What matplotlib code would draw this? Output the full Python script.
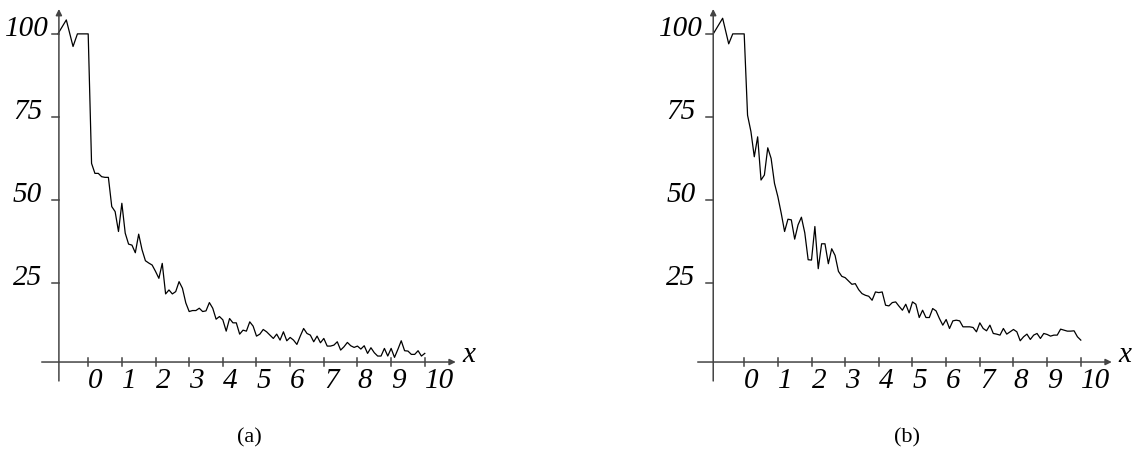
import numpy as np
import matplotlib.pyplot as plt

# leading zig-zag before x = 0 (same shape in both panels)
lead_x_a = [-0.9, -0.65, -0.45, -0.32]
lead_y_a = [100, 104.2, 96.2, 100]
lead_x_b = [-0.92, -0.64, -0.46, -0.34]
lead_y_b = [100, 104.7, 97, 100]

# curve values from x = 0 to x = 10, step 0.1
step = 0.1
y_a = [100, 61, 58, 58, 57, 56.8, 56.8, 48, 46.5, 40.5, 49, 40, 36.7, 36.4, 34.1,
       39.7, 35, 31.7, 31, 30.4, 28.5, 26.4, 30.9, 21.7, 22.9, 21.7, 22.4, 25.4,
       23.4, 19, 16.4, 16.7, 16.7, 17.4, 16.4, 16.6, 19.1, 17.4, 14.1, 14.9, 13.9,
       10.5, 14.3, 13, 13, 9.6, 10.8, 10.5, 13.3, 12, 9, 9.6, 11, 10.3, 9.3, 8.3,
       9.6, 7.8, 10.3, 7.6, 8.6, 7.8, 6.5, 9, 11.3, 9.8, 9.3, 7.3, 9, 7, 8.3, 6, 6,
       6.3, 7.3, 4.8, 5.8, 7.1, 6.1, 5.6, 6, 5.1, 6.1, 3.8, 5.5, 4, 3, 3, 5.3, 3,
       5.3, 2.6, 5, 7.6, 4.6, 4.5, 3.5, 3.5, 4.6, 3, 3.8]
y_b = [100, 75.5, 70.6, 63, 69, 56, 57.5, 65.7, 62.5, 55, 51, 46, 40.5, 44.2, 44,
       38.2, 42.5, 44.8, 40.1, 32, 31.9, 42, 29.3, 36.8, 36.8, 30.8, 35.3, 33.3,
       28.5, 27, 26.6, 25.6, 24.6, 24.8, 23, 21.8, 21.3, 21, 19.8, 22.3, 22.1, 22.3,
       18.3, 18.1, 19.1, 19.3, 18, 16.8, 18.6, 16, 19.3, 18.6, 14.6, 16.8, 14.6,
       14.6, 17.3, 16.6, 14.3, 12.3, 14, 11.3, 13.6, 13.8, 13.6, 11.8, 11.8, 11.8,
       11.6, 10.3, 13, 11.3, 10.6, 12.3, 9.8, 9.6, 9.3, 11.3, 9.6, 10.3, 11, 10.3,
       7.6, 8.8, 9.6, 8, 9.3, 9.8, 8.3, 9.8, 9.5, 9, 9.3, 9.3, 11.1, 10.8, 10.5,
       10.5, 10.6, 8.8, 7.8]

x_ticks = list(range(11))
y_ticks = [100, 75, 50, 25]
captions = ["(a)", "(b)"]

axis_col = "#444444"
tfont = dict(family="Liberation Serif", style="italic", fontsize=21)


def panel(ax, lx, ly, ys, yaxis_x, label100_x, label_x):
    xs = np.arange(len(ys)) * step
    ax.plot(list(lx) + list(xs), list(ly) + list(ys), color="black", lw=0.9)
    x0 = 1.2  # level of the x axis
    ax.annotate("", xy=(10.92, x0), xytext=(-1.38, x0),
                arrowprops=dict(arrowstyle="-|>", color=axis_col, lw=1.1,
                                mutation_scale=9, shrinkA=0, shrinkB=0))
    ax.annotate("", xy=(yaxis_x, 107.5), xytext=(yaxis_x, -4.5),
                arrowprops=dict(arrowstyle="-|>", color=axis_col, lw=1.1,
                                mutation_scale=9, shrinkA=0, shrinkB=0))
    for t in x_ticks:
        ax.plot([t, t], [x0 - 1.2, x0 + 1.1], color=axis_col, lw=1.1)
        ax.text(t, -6.6, str(t), ha="left", va="baseline", **tfont)
    for t in y_ticks:
        ax.plot([yaxis_x - 0.2, yaxis_x], [t, t], color=axis_col, lw=1.1)
        lx_ = label100_x if t == 100 else label_x
        ax.text(lx_, t - 0.6, str(t), ha="right", va="baseline", **tfont)
    ax.text(11.12, x0, "x", ha="left", va="baseline", **tfont)
    ax.set_xlim(-2.62, 11.64)
    ax.set_ylim(-28.6, 110.2)
    ax.axis("off")


fig = plt.figure(figsize=(11.36, 4.61), dpi=100)
ax1 = fig.add_axes([0, 0, 480 / 1136, 1])
ax2 = fig.add_axes([656 / 1136, 0, 480 / 1136, 1])

panel(ax1, lead_x_a, lead_y_a, y_a, -0.87, -1.16, -1.37)
panel(ax2, lead_x_b, lead_y_b, y_b, -0.92, -1.24, -1.44)

fig.text(249 / 1136, 1 - 438 / 461, captions[0], ha="center", va="center",
         family="Liberation Serif", fontsize=16)
fig.text(907 / 1136, 1 - 438 / 461, captions[1], ha="center", va="center",
         family="Liberation Serif", fontsize=16)

fig.savefig("out.png", dpi=100)
